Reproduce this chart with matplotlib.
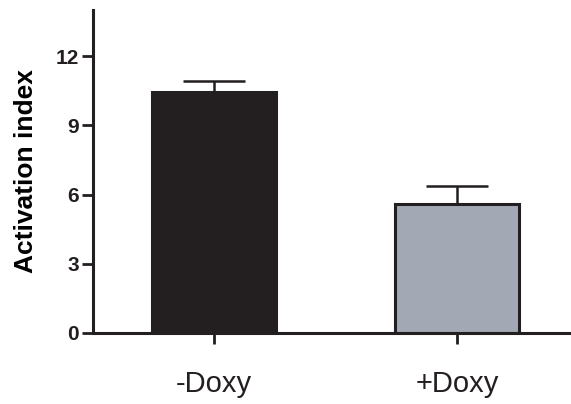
import matplotlib.pyplot as plt

plt.rcParams['font.family'] = ['Liberation Sans', 'DejaVu Sans']

groups = ['-Doxy', '+Doxy']
values = [10.45, 5.6]
errors = [0.47, 0.79]
colors = ['#231f20', '#a3a9b4']

fig = plt.figure(figsize=(5.71, 4.04), dpi=100)
ax = fig.add_axes([93 / 571, 1 - 333 / 404, 1 - 93 / 571, (333 - 10) / 404])

x = list(range(len(groups)))
ax.bar(x, values, width=0.514, color=colors, edgecolor='#231f20', linewidth=2.2, zorder=2)
ax.errorbar(x, values, yerr=[[0] * len(errors), errors], fmt='none', ecolor='#231f20',
            elinewidth=1.8, capsize=22.5, capthick=1.8, zorder=1)

ax.set_xlim(-0.498, 1.469)
ax.set_ylim(0, 14)
ax.set_yticks([0, 3, 6, 9, 12])
ax.set_xticks(x)
ax.set_xticklabels(groups, fontsize=21)
ax.set_ylabel('Activation index', fontsize=19, fontweight='bold', labelpad=13)

for lbl in ax.get_yticklabels():
    lbl.set_fontweight('bold')
    lbl.set_fontsize(15)

ax.spines['top'].set_visible(False)
ax.spines['right'].set_visible(False)
ax.spines['left'].set_linewidth(2.2)
ax.spines['bottom'].set_linewidth(2.2)
ax.spines['left'].set_color('#231f20')
ax.spines['bottom'].set_color('#231f20')
ax.tick_params(axis='y', length=8, width=2, pad=2, colors='#231f20')
ax.tick_params(axis='x', length=8, width=2, pad=19, colors='#231f20')

fig.savefig('out.png', dpi=100)
